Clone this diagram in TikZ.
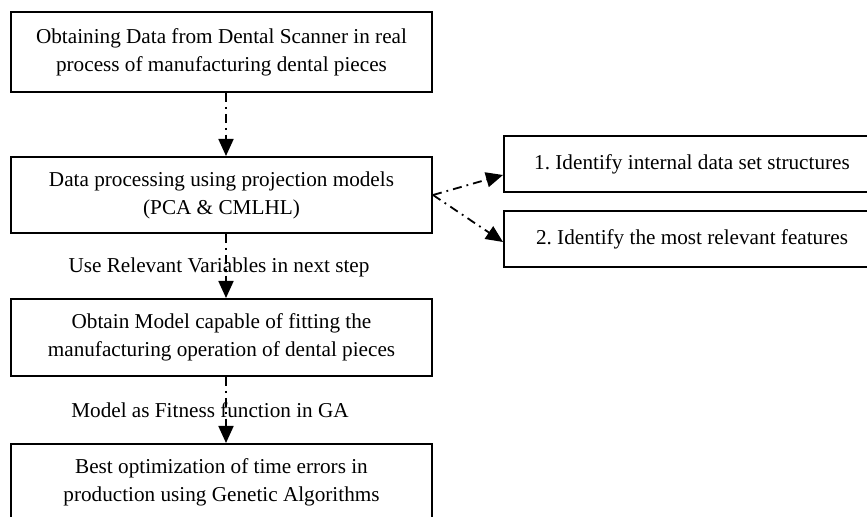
\documentclass[tikz,border=0pt]{standalone}
\usepackage{fontspec}
\setmainfont{Liberation Serif}
\usetikzlibrary{arrows.meta}
\frenchspacing

\begin{document}
\begin{tikzpicture}[x=0.5pt, y=-0.5pt,
    font=\fontsize{10.6}{14}\selectfont,
    stepbox/.style={draw, line width=1pt, align=center, inner sep=0pt, minimum width=210.5pt},
    sidebox/.style={draw, line width=1pt, align=center, inner sep=0pt, minimum width=188pt, minimum height=28pt},
    flow/.style={line width=0.9pt, dash pattern=on 4.5pt off 2.5pt on 0.9pt off 2.5pt, -{Triangle[width=7.5pt,length=8.5pt]}}]
    \clip (0,0) rectangle (867,517) ;

    \node [stepbox, minimum height=40pt] (scan) at (221.5,52) {Obtaining Data from Dental Scanner in real\\process of manufacturing dental pieces} ;
    \node [stepbox, minimum height=38pt] (proj) at (221.5,195) {Data processing using projection models\\(PCA \& CMLHL)} ;
    \node [stepbox, minimum height=38.5pt] (model) at (221.5,337.5) {Obtain Model capable of fitting the\\manufacturing operation of dental pieces} ;
    \node [stepbox, minimum height=38pt] (optim) at (221.5,482) {Best optimization of time errors in\\production using Genetic Algorithms} ;

    \node [sidebox] (struct) at (692,164) {1. Identify internal data set structures} ;
    \node [sidebox] (feat) at (692,239) {2. Identify the most relevant features} ;

    \node (usevar) at (219,267) {Use Relevant Variables in next step} ;
    \node (fitness) at (210,410) {Model as Fitness function in GA} ;

    \draw [flow] ([xshift=2.25pt]scan.south) -- ([xshift=2.25pt]proj.north) ;
    \draw [flow] ([xshift=2.25pt]proj.south) -- ([xshift=2.25pt]model.north) ;
    \draw [flow] ([xshift=2.25pt]model.south) -- ([xshift=2.25pt]optim.north) ;
    \draw [flow] (proj.east) -- ([yshift=-5.5pt]struct.west) ;
    \draw [flow] (proj.east) -- ([yshift=-1.5pt]feat.west) ;
\end{tikzpicture}
\end{document}
